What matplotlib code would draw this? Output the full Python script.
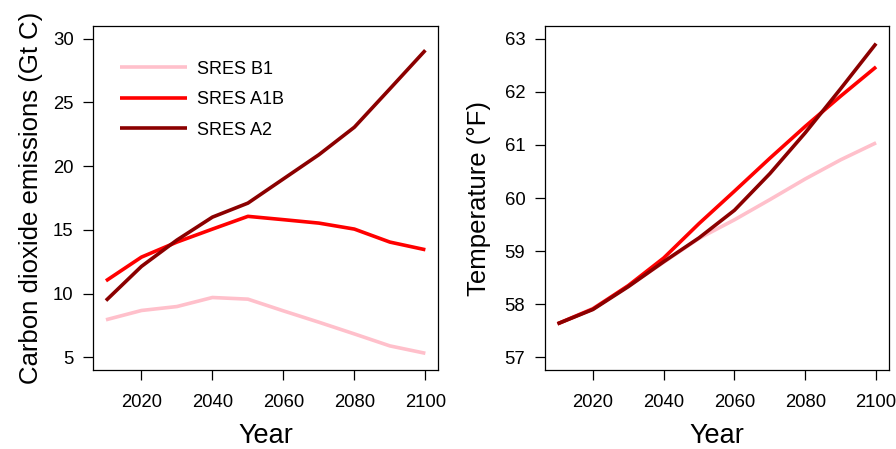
import numpy as np
import matplotlib
matplotlib.use("Agg")
import matplotlib.pyplot as plt

plt.rcParams['font.family'] = ['Liberation Sans', 'DejaVu Sans']

# Datos
years = [2010, 2020, 2030, 2040, 2050, 2060, 2070, 2080, 2090, 2100]
escenarios = ["SRES B1", "SRES A1B", "SRES A2"]
colores = ["pink", "red", "darkred"]

# Emisiones de CO2 (Gt C)
co2_b1 = [7.94, 8.67, 8.98, 9.69, 9.56, 8.64, 7.75, 6.83, 5.89, 5.31]
co2_a1b = [11.0, 12.86, 14.04, 15.06, 16.06, 15.8, 15.53, 15.06, 14.04, 13.44]
co2_a2 = [9.45, 12.13, 14.2, 16.0, 17.1, 19.0, 20.9, 23.06, 26.07, 29.1]

# Temperatura (F)
temp_b1 = [57.63, 57.92, 58.34, 58.79, 59.24, 59.59, 59.97, 60.36, 60.72, 61.04]
temp_a1b = [57.63, 57.91, 58.35, 58.87, 59.52, 60.13, 60.75, 61.35, 61.92, 62.47]
temp_a2 = [57.63, 57.9, 58.33, 58.8, 59.25, 59.77, 60.46, 61.23, 62.06, 62.91]

fig = plt.figure(figsize=(8.96, 4.49), dpi=100)
ax1 = fig.add_axes([0.104, 0.176, 0.385, 0.766])
ax2 = fig.add_axes([0.608, 0.176, 0.384, 0.766])

for serie, col, nombre in zip([co2_b1, co2_a1b, co2_a2], colores, escenarios):
    ax1.plot(years, serie, color=col, lw=2.6, label=nombre, solid_capstyle='butt')
for serie, col in zip([temp_b1, temp_a1b, temp_a2], colores):
    ax2.plot(years, serie, color=col, lw=2.6, solid_capstyle='butt')

def estilo_r(ax, yticks, ylim):
    ax.set_xlim(2006.4, 2103.6)
    ax.set_ylim(*ylim)
    ax.set_xticks([2020, 2040, 2060, 2080, 2100])
    ax.set_yticks(yticks)
    ax.tick_params(direction='out', length=7, width=0.9, labelsize=13.3)
    ax.tick_params(axis='x', pad=10)
    ax.tick_params(axis='y', pad=7)
    for s in ax.spines.values():
        s.set_linewidth(0.9)
    ax.set_xlabel("Year", fontsize=19.5, labelpad=9)

estilo_r(ax1, [5, 10, 15, 20, 25, 30], (4.0, 31.0))
estilo_r(ax2, [57, 58, 59, 60, 61, 62, 63], (56.76, 63.24))
ax1.set_ylabel("Carbon dioxide emissions (Gt C)", fontsize=18.5, labelpad=7)
ax2.set_ylabel("Temperature (°F)", fontsize=18.5, labelpad=10)

ax1.legend(loc='upper left', frameon=False, fontsize=13, handlelength=3.7,
           handletextpad=0.6, labelspacing=0.75, bbox_to_anchor=(0.03, 0.947))

fig.savefig("out.png", dpi=100)
